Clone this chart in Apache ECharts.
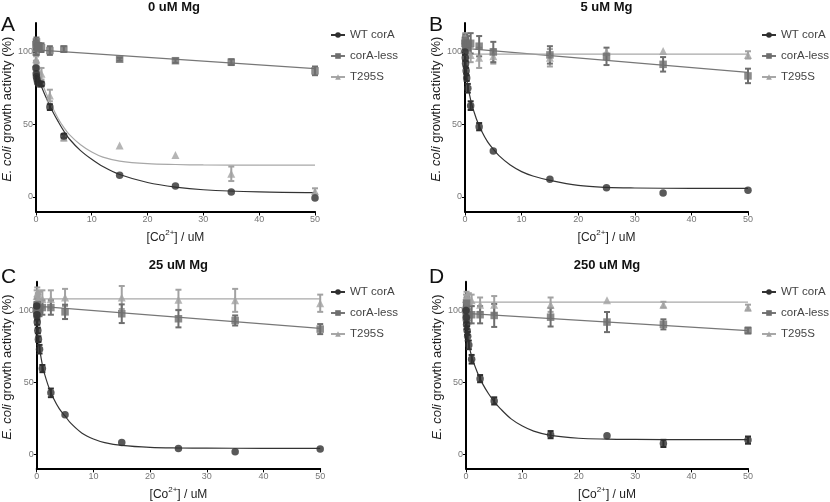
<!DOCTYPE html>
<html>
<head>
<meta charset="utf-8">
<script src="https://cdn.jsdelivr.net/npm/echarts@6/dist/echarts.min.js"></script>
<style>html,body{margin:0;padding:0;background:#fff}#c{width:830px;height:502px}</style>
</head>
<body>
<div id="c"></div>
<script>
// ---- data ----
const doses = [0, 0.05, 0.1, 0.2, 0.3, 0.5, 1, 2.5, 5, 15, 25, 35, 50];
const fitX = [0, 1, 2, 3, 4, 5, 6, 8, 10, 12, 15, 20, 25, 30, 40, 50];
const lineX = [0, 50];
const panelTitles = ['0 uM Mg', '5 uM Mg', '25 uM Mg', '250 uM Mg'];
const panelLetters = ['A', 'B', 'C', 'D'];
const seriesNames = ['WT corA', 'corA-less', 'T295S'];
const xTicks = [0, 10, 20, 30, 40, 50];
const yTicks = [0, 50, 100];

// Panel A (0 uM Mg)
const wtA = [89, 85, 83, 81, 79, 78, 78, 62, 42, 15, 7.6, 3.5, -0.7];
const wtA_err = [0, 0, 0, 0, 0, 0, 1.5, 2, 1.5, 0, 0, 0, 0];
const lessA = [105, 100, 107, 103, 104, 104, 103, 101, 102, 95, 94, 93, 87];
const lessA_err = [3, 2, 3, 2, 2, 2, 3, 3, 2, 1, 1.5, 2, 3];
const tA = [92, 95, 90, 88, 87, 87, 85, 70, 41, 35.5, 29, 16, 4];
const tA_err = [2, 2, 2, 2, 2, 2, 4, 4, 2, 0, 0, 5, 2];
const wtA_fit = [86, 76, 67, 59, 52, 45.5, 40, 32, 26, 21, 15.5, 10, 6.8, 5, 3.5, 3];
const tA_fit = [90, 79.5, 70, 61.5, 54, 48, 43, 36, 31, 27.5, 24.8, 23, 22.4, 22.1, 22, 22];
const lessA_line = [101.5, 88.5];

// Panel B (5 uM Mg)
const wtB = [100, 96, 92, 87, 82, 75, 63, 48.5, 31.7, 12.3, 6.3, 2.8, 4.7];
const wtB_err = [2, 2, 2, 2, 2, 3, 3, 2.5, 0, 0, 0, 0, 0];
const lessB = [106, 108, 104, 105, 103, 106, 106, 104, 100, 98, 97, 91.5, 83.5];
const lessB_err = [4, 4, 4, 4, 4, 5, 7, 7, 7, 6, 6, 5, 5];
const tB = [108, 110, 105, 104, 102, 100, 98, 96, 97, 96, 100, 100.7, 98];
const tB_err = [3, 3, 3, 3, 3, 4, 5, 7, 5, 6, 0, 0, 2.5];
const wtB_fit = [88, 67, 54, 45, 38, 33, 28.5, 22, 17.5, 14.5, 11.5, 8, 6.6, 6.2, 6, 6];
const lessB_line = [102.5, 86];
const tB_line = [98.5, 98.5];

// Panel C (25 uM Mg)
const wtC = [103, 97, 92, 86, 80, 73, 59.5, 42.6, 27.3, 8.1, 3.9, 1.6, 3.5];
const wtC_err = [2, 2, 2, 2, 2, 3, 2.5, 3, 0, 0, 0, 0, 0];
const lessC = [100, 97, 104, 101, 100, 101, 102, 102, 99, 97.7, 94.2, 93, 87];
const lessC_err = [4, 4, 4, 4, 4, 5, 5, 5, 5, 6.5, 6, 3.5, 3.5];
const tC = [110, 105, 112, 108, 107, 108, 108, 108, 109, 109, 107.4, 107, 105];
const tC_err = [4, 4, 4, 4, 4, 5, 6, 6, 6, 8, 7, 8, 6];
const wtC_fit = [88, 62, 48, 38.5, 31.5, 26.5, 21.5, 14.5, 10.5, 8, 6, 4.6, 4.2, 4.1, 4, 4];
const lessC_line = [103, 87.5];
const tC_line = [108, 108];

// Panel D (250 uM Mg)
const wtD = [100, 95, 90, 86, 82, 76, 66, 52.5, 37, 13.5, 12.7, 7.4, 9.7];
const wtD_err = [3, 3, 3, 3, 3, 3, 3, 2.5, 2.5, 2.5, 0, 2.5, 2.5];
const lessD = [100, 95, 105, 98, 97, 97, 97, 97, 96.5, 95.3, 91.9, 90.3, 86];
const lessD_err = [4, 4, 4, 4, 4, 6, 6, 6, 8, 6.5, 7, 3.5, 2];
const tD = [108, 104, 110, 107, 106, 108, 107, 104, 104, 104, 107, 104, 102];
const tD_err = [3, 3, 3, 3, 3, 4, 4, 5, 6, 5, 0, 2, 2];
const wtD_fit = [85, 68, 57, 48.5, 42, 36.5, 32, 24.5, 19.5, 16, 13, 11, 10.4, 10.2, 10, 10];
const lessD_line = [98, 86];
const tD_line = [105.8, 105.8];

// ---- styling ----
const COL = {wt: '#2f2f2f', less: '#6e6e6e', t: '#a2a2a2'};
const LINECOL = {wt: '#333333', less: '#777777', t: '#a8a8a8'};
const FONT = 'Liberation Sans, Arial, Helvetica, sans-serif';
const grids = [
  {left: 33, top: 23, width: 282, height: 188.5},
  {left: 465, top: 23, width: 283, height: 188.5},
  {left: 36.7, top: 281.7, width: 283.5, height: 186.7},
  {left: 466, top: 281.7, width: 282, height: 186.7}
];
const nameGaps = [18.5, 18.5, 22.5, 19.5];
const legendPos = [{left: 325, top: 24}, {left: 756, top: 24}, {left: 325, top: 281}, {left: 756, top: 281}];
const letterPos = [[1, 25], [429, 25], [1, 277], [429, 277]];

function zip(xs, ys) { return xs.map((x, i) => [x, ys[i]]); }
function zip3(xs, ys, es) { return xs.map((x, i) => [x, ys[i], es[i]]); }

const panels = [
  {wt: wtA, wtE: wtA_err, less: lessA, lessE: lessA_err, t: tA, tE: tA_err,
   wtFit: zip(fitX, wtA_fit), lessFit: zip(lineX, lessA_line), tFit: zip(fitX, tA_fit)},
  {wt: wtB, wtE: wtB_err, less: lessB, lessE: lessB_err, t: tB, tE: tB_err,
   wtFit: zip(fitX, wtB_fit), lessFit: zip(lineX, lessB_line), tFit: zip(lineX, tB_line)},
  {wt: wtC, wtE: wtC_err, less: lessC, lessE: lessC_err, t: tC, tE: tC_err,
   wtFit: zip(fitX, wtC_fit), lessFit: zip(lineX, lessC_line), tFit: zip(lineX, tC_line)},
  {wt: wtD, wtE: wtD_err, less: lessD, lessE: lessD_err, t: tD, tE: tD_err,
   wtFit: zip(fitX, wtD_fit), lessFit: zip(lineX, lessD_line), tFit: zip(lineX, tD_line)}
];

function errRenderer(color) {
  return function (params, api) {
    const x = api.value(0), y = api.value(1), e = api.value(2);
    if (!e) return null;
    const top = api.coord([x, y + e]);
    const bot = api.coord([x, y - e]);
    const hw = 3;
    const st = {stroke: color, lineWidth: 2};
    return {type: 'group', children: [
      {type: 'line', shape: {x1: top[0], y1: top[1], x2: bot[0], y2: bot[1]}, style: st},
      {type: 'line', shape: {x1: top[0] - hw, y1: top[1], x2: top[0] + hw, y2: top[1]}, style: st},
      {type: 'line', shape: {x1: bot[0] - hw, y1: bot[1], x2: bot[0] + hw, y2: bot[1]}, style: st}
    ]};
  };
}

const xAxes = [], yAxes = [], series = [], legends = [], graphics = [];
const keys = ['wt', 'less', 't'];
const symbols = {wt: 'circle', less: 'rect', t: 'triangle'};
const symSize = {wt: 7.5, less: 7.5, t: 8};

panels.forEach((p, i) => {
  xAxes.push({
    type: 'value', gridIndex: i, min: 0, max: 50, interval: 10,
    axisLine: {onZero: false, lineStyle: {color: '#000', width: 2}},
    axisTick: {length: 4, lineStyle: {color: '#000', width: 1}},
    axisLabel: {color: '#777', fontSize: 9, margin: 4, fontFamily: FONT},
    splitLine: {show: false},
    name: '{n|[Co}{sup|2+}{n|] / uM}', nameLocation: 'middle', nameGap: 17,
    nameTextStyle: {color: '#222', fontSize: 12, fontFamily: FONT,
      rich: {
        n: {fontSize: 12, verticalAlign: 'bottom', color: '#222', fontFamily: FONT},
        sup: {fontSize: 8, verticalAlign: 'top', padding: [0, 0, 7, 0], color: '#222', fontFamily: FONT}
      }}
  });
  yAxes.push({
    type: 'value', gridIndex: i, min: -10, max: 120,
    axisLine: {onZero: false, lineStyle: {color: '#000', width: 2}},
    axisTick: {length: 3, customValues: yTicks, lineStyle: {color: '#000', width: 1}},
    axisLabel: {customValues: yTicks, color: '#777', fontSize: 9, margin: 3, fontFamily: FONT},
    splitLine: {show: false},
    name: '{i|E. coli} growth activity (%)', nameLocation: 'middle', nameGap: nameGaps[i],
    nameTextStyle: {color: '#222', fontSize: 13, fontFamily: FONT, padding: [0, 0, 0, 16],
      rich: {i: {fontStyle: 'italic', fontSize: 13, color: '#222', fontFamily: FONT}}}
  });
  // fitted curves first (legend icons use them)
  keys.forEach((k, j) => {
    series.push({
      name: seriesNames[j], type: 'line', xAxisIndex: i, yAxisIndex: i,
      data: p[k + 'Fit'], smooth: 0.35,
      symbol: symbols[k], symbolSize: symSize[k], showSymbol: false,
      itemStyle: {color: COL[k]},
      lineStyle: {color: LINECOL[k], width: 1.2}, silent: true, z: 2
    });
  });
  legends.push(Object.assign({
    orient: 'vertical', data: seriesNames, itemWidth: 14, itemHeight: 7, itemGap: 9,
    textStyle: {color: '#444', fontSize: 11.5, fontFamily: FONT}
  }, legendPos[i]));
  const g = grids[i];
  graphics.push({type: 'text', x: g.left + g.width / 2, y: g.top - 16,
    style: {text: panelTitles[i], font: 'bold 13px ' + FONT, fill: '#111', textAlign: 'center', textVerticalAlign: 'middle'}});
  graphics.push({type: 'text', x: letterPos[i][0], y: letterPos[i][1],
    style: {text: panelLetters[i], font: '21px ' + FONT, fill: '#111', textAlign: 'left', textVerticalAlign: 'middle'}});
});

panels.forEach((p, i) => {
  ['t', 'less', 'wt'].forEach(k => {
    const j = keys.indexOf(k);
    series.push({
      name: seriesNames[j] + ' SEM', type: 'custom', xAxisIndex: i, yAxisIndex: i,
      data: zip3(doses, p[k], p[k + 'E']), renderItem: errRenderer(COL[k]), clip: false, silent: true, z: 3
    });
    series.push({
      name: seriesNames[j], type: 'scatter', xAxisIndex: i, yAxisIndex: i,
      data: zip(doses, p[k]), symbol: symbols[k], symbolSize: symSize[k],
      itemStyle: {color: COL[k]}, clip: false, z: 4
    });
  });
});

const chart = echarts.init(document.getElementById('c'), null, {renderer: 'canvas'});
chart.setOption({
  backgroundColor: '#fff',
  animation: false,
  grid: grids,
  xAxis: xAxes,
  yAxis: yAxes,
  legend: legends,
  graphic: graphics,
  series: series
});
</script>
</body>
</html>
